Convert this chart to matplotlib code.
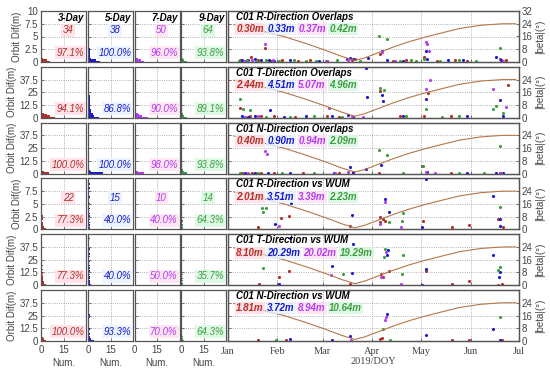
import numpy as np
import matplotlib.pyplot as plt

# ---- data ----
arcs = ['3-Day', '5-Day', '7-Day', '9-Day']
arc_colors = ['#b0302a', '#1a1acc', '#b23cf0', '#3c9e3c']
arc_bg = ['#ffdde4', '#e6f2ff', '#ffe0f2', '#d8f8e2']

row_titles = ['C01 R-Direction Overlaps', 'C01 T-Direction Overlaps', 'C01 N-Direction Overlaps',
              'C01 R-Direction vs WUM', 'C01 T-Direction vs WUM', 'C01 N-Direction vs WUM']
row_ymax = [10, 50, 50, 10, 50, 50]
row_bin = [0.25, 1.25, 1.25, 0.25, 1.25, 1.25]

rms_text = [['0.30m', '0.33m', '0.37m', '0.42m'],
            ['2.44m', '4.51m', '5.07m', '4.96m'],
            ['0.40m', '0.90m', '0.94m', '2.09m'],
            ['2.01m', '3.51m', '3.39m', '2.23m'],
            ['8.10m', '20.29m', '20.02m', '19.29m'],
            ['1.81m', '3.72m', '8.94m', '10.64m']]

pct_text = [['97.1%', '100.0%', '96.0%', '93.8%'],
            ['94.1%', '86.8%', '90.0%', '89.1%'],
            ['100.0%', '100.0%', '98.0%', '93.8%'],
            ['77.3%', '40.0%', '40.0%', '64.3%'],
            ['77.3%', '40.0%', '50.0%', '35.7%'],
            ['100.0%', '93.3%', '70.0%', '64.3%']]
count_text = {0: ['34', '38', '50', '64'], 3: ['22', '15', '10', '14']}

# histogram counts per bin (bins start at 0, width row_bin)
hist_counts = [
    [[6, 4, 1], [8, 5, 2, 1, 1, 1, 1, 1, 1, 1, 1], [6, 4, 2, 1], [4, 2, 1]],
    [[9, 6, 4, 2], [7, 4, 3, 3, 2, 2, 2, 1, 1, 1, 1, 1, 1, 1, 1, 1, 1, 1],
     [9, 5, 3, 2, 1, 1, 0, 0, 0, 0, 0, 0, 0, 0, 0, 0, 0, 0, 0, 0, 0, 0, 1], [4, 2, 1, 1]],
    [[5, 2], [10, 2, 1], [6, 2, 1], [4, 2, 1, 1]],
    [[3, 2, 2, 1, 1, 1, 0, 1, 1, 0, 1, 0, 0, 0, 0, 0, 0, 0, 0, 0, 0, 0, 0, 0, 0, 0, 0, 0, 0, 1],
     [1, 1, 0, 1, 0, 1, 0, 1, 0, 0, 1, 0, 1, 0, 0, 0, 1, 0, 0, 0, 1, 0, 0, 0, 0, 1, 0, 0, 0, 0, 0, 0, 1, 0, 0, 1],
     [1, 1], [1, 1, 0, 1, 0, 0, 1]],
    [[3, 2, 2, 1, 1, 1, 1, 1, 0, 1, 0, 0, 1, 0, 0, 1],
     [2, 1, 1, 1, 0, 1, 1, 0, 1, 0, 1, 1, 0, 1, 0, 1, 0, 0, 1, 0, 0, 0, 1, 0, 1, 0, 0, 0, 1, 0, 0, 0, 0, 0, 0, 0, 1, 0, 0, 1],
     [1, 1, 0, 1], [1, 1, 0, 1, 0, 1, 0, 0, 1]],
    [[3, 2, 1], [4, 2, 1, 1, 0, 1, 0, 0, 0, 1, 0, 0, 0, 0, 0, 0, 0, 0, 1, 0, 1], [1, 1], [2, 1, 0, 1]],
]

# scatter points (DOY, orbit difference) per row, per arc length
pts_doy = [
    [[9, 12, 15.5, 20, 24.5, 28, 35, 45, 52, 63, 78, 80, 96, 104, 112, 123, 131, 142, 150, 170, 174],
     [10, 14, 18, 22, 27, 30, 40, 58, 75, 77, 79, 88, 97, 100, 110, 124, 125, 138, 147, 168, 171],
     [11, 16, 24.5, 29, 62, 76, 97, 105, 124, 125, 126, 172],
     [8, 13, 19, 25, 33, 42, 50, 56, 69, 83, 95, 100, 108, 115, 118, 123, 133, 145, 155, 170]],
    [[9, 15, 22, 30, 43, 63, 70, 96, 108, 123, 125.5, 140, 175],
     [10, 14, 18, 27.6, 36, 50, 66, 76, 79, 87, 87.5, 97, 97.5, 110, 124, 150, 170, 172],
     [12, 20, 64, 78, 85, 124, 126.5, 166, 174],
     [8.7, 10.4, 15, 25, 40, 55, 72, 95.5, 98, 112, 124, 134, 145, 166, 168, 172]],
    [[10, 16, 22, 30, 48, 70, 79, 95, 122, 140, 170],
     [12, 18, 26, 40, 67, 77, 79, 87, 96.5, 125, 150, 168, 172],
     [14, 24.5, 25.3, 68, 76, 124, 130, 171],
     [9, 20, 35, 55, 95, 100, 110, 122.5, 145, 160, 170]],
    [[19.7, 34, 39, 77, 96, 97.5, 95.5, 99, 122.5, 140.7, 151, 169, 172],
     [30.7, 40.5, 78, 98.5, 101.5, 124.5, 122, 166, 170.5, 170],
     [32.8, 99, 96, 109],
     [22.4, 23.2, 24.9, 101, 110, 109.5, 170]],
    [[20.3, 33, 39.4, 77, 96.5, 97.5, 101.5, 124, 140.7, 151, 171.5, 169],
     [32.8, 39.8, 66, 78, 79, 100.5, 100, 124.5, 122, 165.6, 170.5, 169.5],
     [65.3, 96.5, 99.5, 109],
     [23.2, 72.6, 98.5, 97.9, 110, 109.5, 170, 169]],
    [[19.7, 37.3, 96, 97, 140.7, 151, 171.5],
     [39.8, 66, 77, 100, 124.5, 165.6, 170],
     [77.8, 98.5, 99.2],
     [31, 97.5, 101.7, 170]],
]
pts_val = [
    [[0.3, 0.2, 1.0, 0.4, 2.8, 0.2, 0.3, 0.2, 0.3, 0.2, 0.3, 0.5, 1.5, 0.2, 0.3, 1.0, 0.2, 0.3, 0.2, 0.5, 0.3],
     [0.4, 0.3, 0.5, 0.3, 0.4, 0.2, 0.3, 0.2, 0.5, 0.85, 0.5, 0.85, 2.2, 0.3, 0.2, 2.2, 0.5, 0.4, 0.3, 1.0, 0.3],
     [0.2, 0.3, 3.5, 0.3, 0.2, 0.3, 1.9, 0.2, 4.0, 3.5, 2.2, 0.2],
     [0.2, 0.3, 0.2, 0.3, 0.2, 0.3, 0.2, 0.2, 0.3, 0.2, 5.1, 4.6, 0.2, 0.3, 0.2, 0.5, 0.2, 0.3, 0.2, 2.7]],
    [[10, 1.5, 2, 1.5, 1, 2, 1, 26, 1.5, 2, 24, 1.5, 32.6],
     [2, 1, 1.5, 8, 1, 1.5, 2, 3, 1, 49, 20.5, 22.4, 16, 1.5, 18, 2, 17.3, 2],
     [1, 1.5, 10, 2, 1, 27.8, 37.4, 27.8, 10.9],
     [18.2, 8.6, 7.7, 1, 1, 1.5, 1, 29.4, 27, 1.5, 8.6, 1, 1.5, 8.6, 11.8, 4.5]],
    [[1, 0.5, 1, 0.5, 1, 0.5, 1, 1, 7.8, 0.5, 1],
     [1, 1, 0.8, 0.5, 1, 6.2, 1.5, 4.6, 8.8, 1.5, 0.5, 1, 0.8],
     [0.5, 22.5, 19.3, 1, 2, 1.5, 0.5, 1],
     [0.5, 1, 0.5, 0.5, 23.5, 18.3, 0.5, 7.8, 0.5, 0.5, 27.5]],
    [[0.45, 2.2, 2.6, 0.6, 2.4, 2.1, 1.5, 1.6, 1.7, 0.45, 0.8, 2.1, 0.45],
     [1.0, 5.1, 2.8, 6.0, 3.5, 9.8, 0.45, 6.6, 2.1, 0.6],
     [0.6, 5.4, 1.0, 0.45],
     [4.2, 3.4, 4.2, 1.4, 3.2, 1.7, 4.3]],
    [[1, 7.8, 13.5, 1, 10.5, 8, 14, 13.5, 1, 4, 1, 0.5],
     [1, 46, 18.8, 11.6, 40.8, 34.5, 30, 15.7, 0.5, 29.2, 12.6, 8],
     [10.4, 7.8, 32.3, 1],
     [17.3, 11, 35.5, 27.3, 29.2, 11, 17.9, 14.8]],
    [[0.5, 1, 2, 3, 0.5, 1, 0.5],
     [1.5, 1, 4.9, 26.2, 5.6, 12, 1],
     [0.5, 20.6, 24],
     [0.5, 11.4, 1, 23.9]],
]

beta_doy = [5, 15, 25, 36, 50, 62, 72, 80, 86, 93, 104, 114, 124, 135, 145, 158, 166, 172, 180]
beta_val = [23.5, 21.5, 18.8, 16, 11.5, 7.3, 3.5, 1, 2.5, 5.2, 9.4, 12.8, 15.7, 18.5, 21, 23, 23.6, 24, 24]

month_doy = [1, 32, 60, 91, 121, 152, 182]
month_lbl = ['Jan', 'Feb', 'Mar', 'Apr', 'May', 'Jun', 'Jul']

# ---- figure ----
plt.rcParams['font.family'] = 'Liberation Sans'
fig = plt.figure(figsize=(5.5, 3.7), dpi=100)
W, H = 550.0, 370.0
tops = [11, 66.8, 122.6, 178.4, 234.2, 290]
rh = 51
col_left = [41, 88, 134.5, 181]
cw = 45
wide_left, wide_w = 227.5, 291.5
gray = '#444444'
grid_kw = dict(color='#999999', linestyle=':', linewidth=0.6)


def frame(ax):
    for s in ax.spines.values():
        s.set_color('#555555')
        s.set_linewidth(0.9)
    ax.tick_params(direction='in', length=2, width=0.5, colors=gray, labelsize=7, pad=2)


for r in range(6):
    ymax = row_ymax[r]
    yt = [0, ymax / 4, ymax / 2, ymax * 3 / 4] + ([ymax] if r == 0 else [])
    ylbl = ['%g' % v for v in yt]
    bottom = 1 - (tops[r] + rh) / H
    for c in range(4):
        ax = fig.add_axes([col_left[c] / W, bottom, cw / W, rh / H])
        cnt = hist_counts[r][c]
        edges = np.arange(len(cnt)) * row_bin[r]
        ax.barh(edges, cnt, height=row_bin[r], align='edge', color=arc_colors[c], linewidth=0)
        ax.set_xlim(0, 30)
        ax.set_ylim(0, ymax)
        ax.set_xticks([0, 15])
        ax.set_yticks(yt)
        ax.grid(True, **grid_kw)
        ax.set_axisbelow(True)
        frame(ax)
        if c == 0:
            ax.set_yticklabels(ylbl)
            ax.set_ylabel('Orbit Dif(m)', fontsize=7, color=gray, labelpad=2)
        else:
            ax.set_yticklabels([])
        if r == 5:
            ax.set_xticklabels(['0', '15'])
            ax.tick_params(axis='x', pad=3)
            ax.set_xlabel('Num.', fontsize=7, color=gray, labelpad=2)
        else:
            ax.set_xticklabels([])
        if r == 0:
            ax.text(0.97, 0.97, arcs[c], transform=ax.transAxes, ha='right', va='top',
                    fontsize=7, fontweight='bold', fontstyle='italic', color='black')
        if r in count_text:
            ax.text(0.6, 0.62, count_text[r][c], transform=ax.transAxes, ha='center', va='center',
                    fontsize=7, fontstyle='italic', color=arc_colors[c],
                    bbox=dict(boxstyle='square,pad=0.15', fc=arc_bg[c], ec='none', alpha=0.8))
        ax.text(0.96, 0.08, pct_text[r][c], transform=ax.transAxes, ha='right', va='bottom',
                fontsize=7, fontstyle='italic', color=arc_colors[c], zorder=5,
                bbox=dict(boxstyle='square,pad=0.15', fc=arc_bg[c], ec='none', alpha=0.8))

    # wide time-series panel
    ax = fig.add_axes([wide_left / W, bottom, wide_w / W, rh / H])
    for c in range(4):
        ax.scatter(pts_doy[r][c], pts_val[r][c], s=5, color=arc_colors[c], linewidths=0, zorder=3)
    ax.set_xlim(1, 182)
    ax.set_ylim(0, ymax)
    ax.set_xticks(month_doy)
    ax.set_yticks(yt)
    ax.set_yticklabels([])
    ax.grid(True, **grid_kw)
    ax.set_axisbelow(True)
    frame(ax)
    if r == 5:
        ax.set_xticklabels(month_lbl, family='Liberation Serif', fontsize=7.5)
        ax.tick_params(axis='x', pad=4)
        ax.set_xlabel('2019/DOY', family='Liberation Serif', fontsize=7.5, color=gray, labelpad=1)
    else:
        ax.set_xticklabels([])

    ax2 = ax.twinx()
    ax2.plot(beta_doy, beta_val, color='#b5774a', linewidth=0.8, zorder=2)
    ax2.set_ylim(0, 32)
    bt = [0, 8, 16, 24] + ([32] if r == 0 else [])
    ax2.set_yticks(bt)
    ax2.set_yticklabels([str(v) for v in bt])
    ax2.set_ylabel('|beta|(°)', fontsize=7, color=gray, labelpad=2)
    frame(ax2)

    ax2.text(0.03, 0.98, row_titles[r], transform=ax.transAxes, ha='left', va='top',
             fontsize=7, fontweight='bold', fontstyle='italic', color='black', zorder=6)
    prev = None
    for c in range(4):
        kw = dict(fontsize=7, fontweight='bold', fontstyle='italic', color=arc_colors[c], zorder=6,
                  va='center', ha='left',
                  bbox=dict(boxstyle='square,pad=0.1', fc=arc_bg[c], ec='none', alpha=0.8))
        if prev is None:
            prev = ax2.annotate(rms_text[r][c], xy=(0.03, 0.64), xycoords=ax.transAxes, **kw)
        else:
            prev = ax2.annotate(rms_text[r][c], xy=(1, 0.5), xycoords=prev,
                                xytext=(2.5, 0), textcoords='offset points', **kw)

fig.savefig('out.png', dpi=100)
